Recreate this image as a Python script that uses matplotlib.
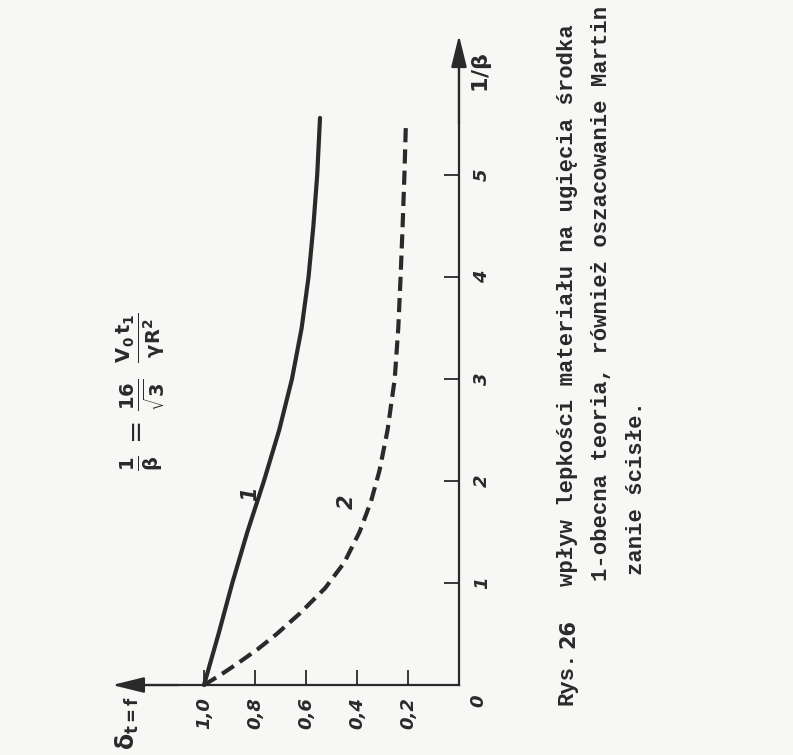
import matplotlib.pyplot as plt

# curve 1 (solid) - 1/beta and delta
inv_beta_1 = [0, 0.5, 1.0, 1.5, 2.0, 2.5, 3.0, 3.5, 4.0, 4.5, 5.0, 5.56]
delta_1 = [1.0, 0.943, 0.889, 0.83, 0.765, 0.705, 0.655, 0.617, 0.59, 0.571, 0.556, 0.545]

# curve 2 (dashed)
inv_beta_2 = [0, 0.1, 0.2, 0.35, 0.5, 0.7, 0.95, 1.2, 1.5, 1.8, 2.1, 2.5, 3.0, 3.5, 4.0, 4.5, 5.0, 5.52]
delta_2 = [1.0, 0.935, 0.875, 0.79, 0.715, 0.625, 0.525, 0.45, 0.39, 0.345, 0.312, 0.28,
           0.252, 0.238, 0.229, 0.221, 0.214, 0.208]

delta_ticks = [0.2, 0.4, 0.6, 0.8, 1.0]
delta_labels = ['0,2', '0,4', '0,6', '0,8', '1,0']
beta_ticks = [1, 2, 3, 4, 5]
beta_labels = ['1', '2', '3', '4', '5']

ink = '#2a2a2a'
paper = '#f7f7f5'

fig = plt.figure(figsize=(7.93, 7.55), dpi=100, facecolor=paper)
ax = fig.add_axes([0, 0, 1, 1], facecolor=paper)
# delta grows to the left, 1/beta upwards (page is turned on its side)
ax.set_xlim(1.8, -1.31)
ax.set_ylim(-0.686, 6.716)

ax.plot(delta_1, inv_beta_1, color=ink, lw=3.0, solid_capstyle='round')
ax.plot(delta_2, inv_beta_2, color=ink, lw=3.0, linestyle=(0, (3.4, 1.7)))

# axes with arrow heads
for s in ['top', 'left']:
    ax.spines[s].set_visible(False)
ax.spines['right'].set_position(('data', 0))
ax.spines['bottom'].set_position(('data', 0))
ax.spines['right'].set_bounds(0, 6.2)
ax.spines['bottom'].set_bounds(0, 1.25)
for s in ['right', 'bottom']:
    ax.spines[s].set_color(ink)
    ax.spines[s].set_linewidth(1.6)
arrow = dict(arrowstyle='-|>,head_length=1.3,head_width=0.32', lw=1.6,
             color=ink, mutation_scale=15, shrinkA=0, shrinkB=0)
ax.annotate('', xy=(0, 6.37), xytext=(0, 5.5), arrowprops=arrow)
ax.annotate('', xy=(1.36, 0), xytext=(1.1, 0), arrowprops=arrow)

ax.yaxis.tick_right()
ax.set_xticks(delta_ticks)
ax.set_xticklabels(delta_labels, rotation=90, fontstyle='italic', fontweight='bold')
ax.set_yticks(beta_ticks)
ax.set_yticklabels(beta_labels, rotation=90, fontstyle='italic', fontweight='bold',
                   va='center')
ax.tick_params(axis='x', direction='in', length=11, width=1.3, pad=9,
               labelsize=13, colors=ink)
ax.tick_params(axis='y', direction='in', length=11, width=1.3, pad=10,
               labelsize=13, colors=ink)

ax.text(-0.075, -0.15, '0', rotation=90, fontsize=13, fontstyle='italic',
        fontweight='bold', color=ink, ha='center', va='center')
ax.text(-0.09, 6.0, r'$\mathbf{1/\beta}$', rotation=90, fontsize=16, color=ink,
        ha='center', va='center')
ax.text(1.3, -0.37, r'$\mathbf{\delta_{t=f}}$', rotation=90, fontsize=17, color=ink,
        ha='center', va='center')

# curve numbers and formula
ax.text(0.82, 1.88, '1', rotation=90, fontsize=15, fontstyle='italic',
        fontweight='bold', color=ink, ha='center', va='center')
ax.text(0.44, 1.80, '2', rotation=90, fontsize=15, fontstyle='italic',
        fontweight='bold', color=ink, ha='center', va='center')
ax.text(1.25, 2.1,
        r'$\mathbf{\frac{1}{\beta}}\,=\,\mathbf{\frac{16}{\sqrt{3}}}\;\;\mathbf{\frac{V_0\,t_1}{\gamma R^2}}$',
        rotation=90, rotation_mode='anchor', fontsize=20, color=ink,
        ha='left', va='center')

# caption, typewriter
mono = 'Liberation Mono'
cap = dict(rotation=90, rotation_mode='anchor', family=mono, fontsize=16,
           fontweight='bold', color=ink, ha='left', va='center')
ax.text(-0.425, -0.2, 'Rys.', **cap)
ax.text(-0.43, 0.36, '26', rotation=90, rotation_mode='anchor',
        fontsize=15, fontweight='bold', color=ink, ha='left', va='center')
ax.text(-0.425, 0.97, 'wpływ lepkości materiału na ugięcia środka', **cap)
ax.text(-0.56, 1.02, '1-obecna teoria, również oszacowanie Martin', **cap)
ax.text(-0.695, 1.08, 'zanie ścisłe.', **cap)

fig.savefig('out.png', dpi=100, facecolor=paper)
